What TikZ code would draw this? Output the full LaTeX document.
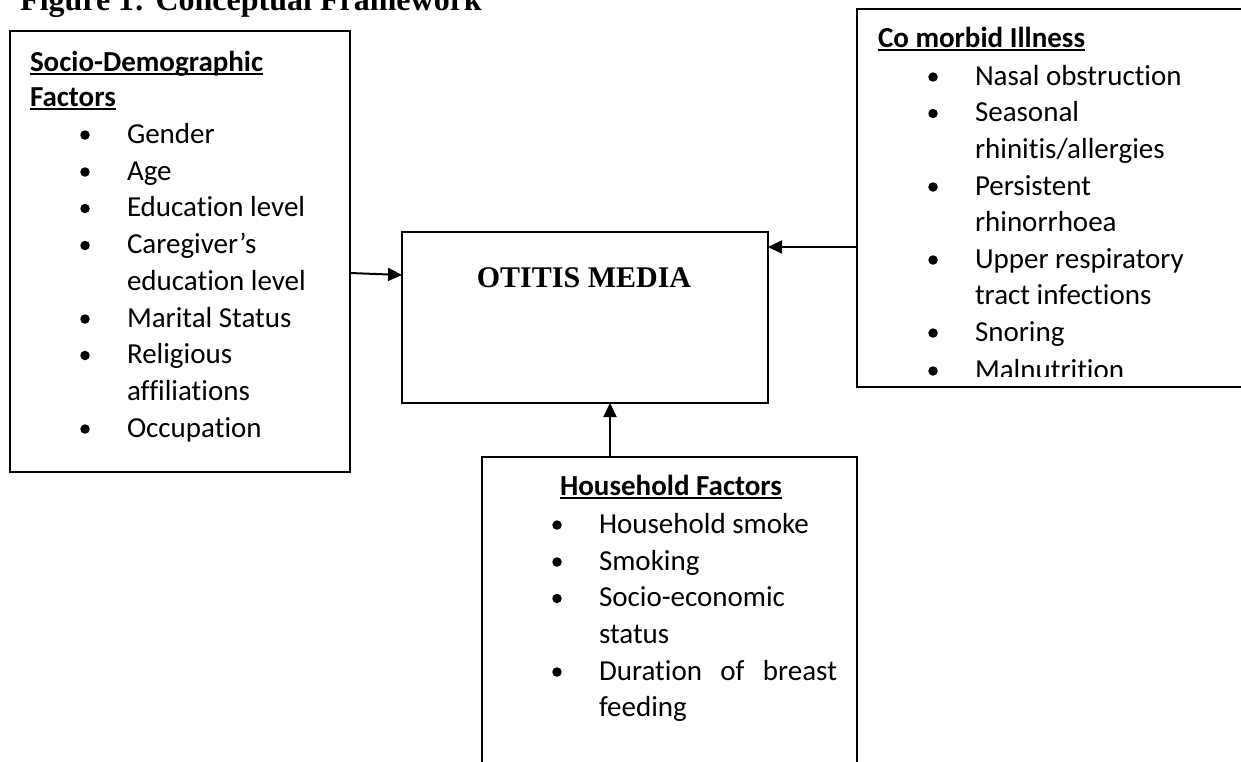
\documentclass[tikz,border=0pt]{standalone}
\usepackage{fontspec}
\setmainfont{Carlito}[Ligatures=NoCommon]
\newfontfamily\tnr{Liberation Serif}
\usetikzlibrary{arrows.meta}
\tikzset{
  box/.style={draw, line width=2pt, rectangle, inner sep=0pt, outer sep=0pt},
  txt/.style={inner sep=0pt, outer sep=0pt, anchor=base west, font=\fontsize{29}{36}\selectfont},
  hdr/.style={txt, font=\fontsize{29}{36}\selectfont\bfseries},
  blt/.style={circle, fill=black, inner sep=0pt, minimum size=9.5pt},
  arr/.style={line width=2pt, -{Triangle[length=14pt,width=13pt]}},
  ul/.style={line width=2pt}
}
\newcommand{\bl}[4]{% name, x, y(baseline), text
  \node[txt] (#1) at (#2,#3) {#4};
  \node[blt] (#1b) at ([xshift=-42pt,yshift=8pt]#1.base west) {};}
\newcommand{\cl}[4]{\node[txt] (#1) at (#2,#3) {#4};}
\begin{document}
\begin{tikzpicture}[x=1pt,y=-1pt]
\useasboundingbox (0,0) rectangle (1241,761);
\clip (0,0) rectangle (1241,761);
\fill[white] (0,0) rectangle (1241,761);
% title
\node[inner sep=0pt, anchor=base west, font=\tnr\fontsize{32}{36}\selectfont\bfseries] (title) at (20,10) {Figure 1: Conceptual Framework};
% boxes
\node[box, minimum width=340pt, minimum height=441pt] (sd) at (180,251.5) {};
\node[box, minimum width=366pt, minimum height=171pt] (om) at (585,317.5) {};
\node[box, minimum width=403pt, minimum height=378pt] (cm) at (1058.5,198) {};
\node[box, minimum width=375pt, minimum height=333pt] (hf) at (669.5,623.5) {};
% centre text
\node[inner sep=0pt, anchor=base, font=\tnr\fontsize{30}{36}\selectfont\bfseries] (omt) at (584,287) {OTITIS MEDIA};
% socio-demographic
\node[hdr] (sdh1) at (30,71) {Socio-Demographic};
\node[hdr] (sdh2) at (30,106) {Factors};
\draw[ul] ([yshift=-3pt]sdh1.base west) -- ([yshift=-3pt]sdh1.base east);
\draw[ul] ([yshift=-3pt]sdh2.base west) -- ([yshift=-3pt]sdh2.base east);
\bl{s1}{127}{143}{Gender}
\bl{s2}{127}{180}{Age}
\bl{s3}{127}{216.5}{Education level}
\bl{s4}{127}{253.5}{Caregiver’s}
\cl{s4b}{127}{290}{education level}
\bl{s5}{127}{327}{Marital Status}
\bl{s6}{127}{363.5}{Religious}
\cl{s6b}{127}{400}{affiliations}
\bl{s7}{127}{437}{Occupation}
% co morbid
\node[hdr] (cmh) at (878,47) {Co morbid Illness};
\draw[ul] ([yshift=-3pt]cmh.base west) -- ([yshift=-3pt]cmh.base east);
\bl{c1}{975}{85}{Nasal obstruction}
\bl{c2}{975}{121.5}{Seasonal}
\cl{c2b}{975}{158}{rhinitis/allergies}
\bl{c3}{975}{195}{Persistent}
\cl{c3b}{975}{231.5}{rhinorrhoea}
\bl{c4}{975}{268}{Upper respiratory}
\cl{c4b}{975}{304.5}{tract infections}
\bl{c5}{975}{341}{Snoring}
\begin{scope}
\clip (860,340) rectangle (1241,376);
\bl{c6}{975}{379}{Malnutrition}
\end{scope}
% household
\node[hdr, anchor=base] (hfh) at (671,495) {Household Factors};
\draw[ul] ([yshift=-3pt]hfh.base west) -- ([yshift=-3pt]hfh.base east);
\bl{h1}{599}{533}{Household smoke}
\bl{h2}{599}{570}{Smoking}
\bl{h3}{599}{606.5}{Socio-economic}
\cl{h3b}{599}{643}{status}
\bl{h4}{599}{680}{\makebox[238pt][s]{Duration of breast}}
\cl{h4b}{599}{716.5}{feeding}
% arrows
\draw[arr] ([yshift=-21.5pt]sd.east) -- ([yshift=42.5pt]om.west);
\draw[arr] ([yshift=-49pt]cm.west) -- ([yshift=70.5pt]om.east);
\draw[arr] ([xshift=-59.5pt]hf.north) -- ([xshift=25pt]om.south);
\end{tikzpicture}
\end{document}
